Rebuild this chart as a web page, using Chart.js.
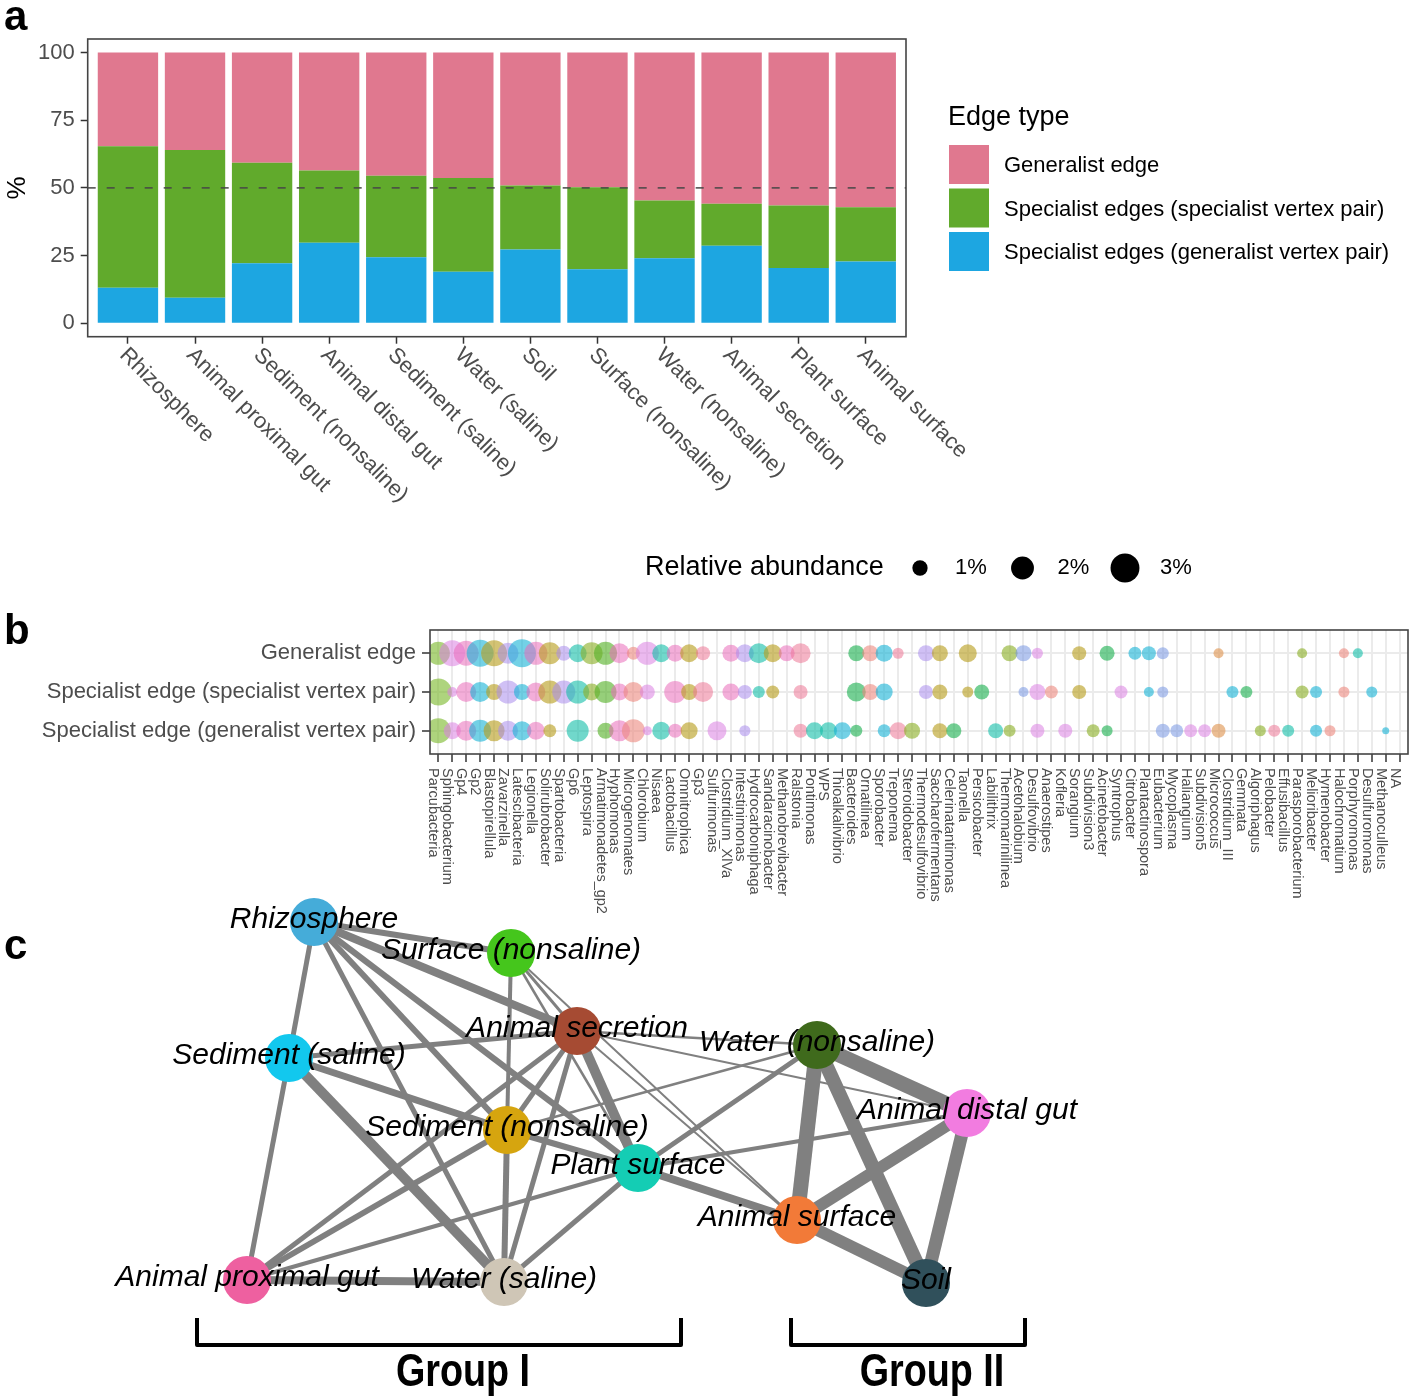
<!DOCTYPE html>
<html>
<head>
<meta charset="utf-8">
<title>Edge types across habitats</title>
<script src="https://cdn.jsdelivr.net/npm/chart.js"></script>
<style>
  html, body { margin: 0; padding: 0; background: #fff; }
  #page { position: relative; width: 1415px; height: 1398px; overflow: hidden; }
  #page canvas { position: absolute; }
  .tag { position: absolute; left: 4px; font: bold 42px/1 "Liberation Sans", Arial, sans-serif; color: #000; }
</style>
</head>
<body>
<div id="page">
  <canvas id="chartA" width="1415" height="540" style="left:0;top:0"></canvas>
  <canvas id="chartB" width="1430" height="380" style="left:0;top:540px"></canvas>
  <!-- the scatter pads its plot by the node radius (24px), so the canvas is 24px larger on every side -->
  <canvas id="chartC" width="1463" height="566" style="left:-24px;top:856px"></canvas>
  <div class="tag" style="top:-5px">a</div>
  <div class="tag" style="top:609px">b</div>
  <div class="tag" style="top:924px">c</div>
</div>
<script>
// ---- panel a: share of edge types per habitat (%)
const siteLabels = ['Rhizosphere', 'Animal proximal gut', 'Sediment (nonsaline)', 'Animal distal gut',
  'Sediment (saline)', 'Water (saline)', 'Soil', 'Surface (nonsaline)', 'Water (nonsaline)',
  'Animal secretion', 'Plant surface', 'Animal surface'];
const specGenPair = [13.1, 9.4, 22.1, 29.7, 24.4, 19.0, 27.2, 19.9, 24.0, 28.6, 20.4, 22.8];
const specSpecPair = [52.3, 54.6, 37.2, 26.7, 30.1, 34.6, 23.7, 30.3, 21.3, 15.5, 23.1, 20.0];
const generalistEdge = [34.6, 36.0, 40.7, 43.6, 45.5, 46.4, 49.1, 49.8, 54.7, 55.9, 56.5, 57.2];
const pctTicks = [0, 25, 50, 75, 100];

// ---- panel b: relative abundance (%) of genera per edge type
const rowLabels = ['Generalist edge', 'Specialist edge (specialist vertex pair)', 'Specialist edge (generalist vertex pair)'];
const genera = ['Parcubacteria', 'Sphingobacterium', 'Gp4', 'Gp2', 'Blastopirellula', 'Zavarzinella',
  'Latescibacteria', 'Legionella', 'Solirubrobacter', 'Spartobacteria', 'Gp6', 'Leptospira',
  'Armatimonadetes_gp2', 'Hyphomonas', 'Microgenomates', 'Chlorobium', 'Nisaea', 'Lactobacillus',
  'Omnitrophica', 'Gp3', 'Sulfurimonas', 'Clostridium_XlVa', 'Intestinimonas', 'Hydrocarboniphaga',
  'Sandaracinobacter', 'Methanobrevibacter', 'Ralstonia', 'Pontimonas', 'WPS', 'Thioalkalivibrio',
  'Bacteroides', 'Ornatilinea', 'Sporobacter', 'Treponema', 'Steroidobacter', 'Thermodesulfovibrio',
  'Saccharofermentans', 'Celerinatantimonas', 'Taonella', 'Persicobacter', 'Labilithrix',
  'Thermomarinilinea', 'Acetohalobium', 'Desulfovibrio', 'Anaerostipes', 'Kofleria', 'Sorangium',
  'Subdivision3', 'Acinetobacter', 'Syntrophus', 'Citrobacter', 'Plantactinospora', 'Eubacterium',
  'Mycoplasma', 'Haliangium', 'Subdivision5', 'Micrococcus', 'Clostridium_III', 'Gemmata',
  'Algoriphagus', 'Pelobacter', 'Effusibacillus', 'Parasporobacterium', 'Melioribacter',
  'Hymenobacter', 'Halochromatium', 'Porphyromonas', 'Desulfuromonas', 'Methanoculleus', 'NA'];
const _ = null;
const abundGeneralist = [2.02, 2.49, 2.33, 2.66, 2.49, 1.73, 2.83, 2.02, 1.87, 0.97,
  1.32, 1.87, 2.02, 1.59, 0.75, 2.02, 1.32, 1.20, 1.32, 0.86,
  _, 1.20, 1.32, 1.59, 1.32, 1.08, 1.59, _, _, _,
  1.08, 1.08, 1.20, 0.57, _, 1.08, 1.08, _, 1.32, _,
  _, 1.08, 1.08, 0.57, _, _, 0.86, _, 0.97, _,
  0.75, 0.86, 0.66, _, _, _, 0.48, _, _, _,
  _, _, 0.48, _, _, 0.48, 0.48, _, _, _];
const abundSpecSpec = [2.66, 0.48, 1.59, 1.59, 1.08, 2.02, 1.08, 1.45, 2.02, 2.02,
  2.02, 1.20, 1.87, 1.20, 1.59, 0.97, _, 1.87, 1.08, 1.59,
  _, 1.20, 0.86, 0.66, 0.75, _, 0.86, _, _, _,
  1.45, 1.08, 1.20, _, _, 0.86, 0.97, _, 0.57, 0.97,
  _, _, 0.48, 1.08, 0.75, _, 0.86, _, _, 0.75,
  _, 0.48, 0.57, _, _, _, _, 0.66, 0.66, _,
  _, _, 0.75, 0.66, _, 0.57, _, 0.57, _, _];
const abundSpecGen = [2.33, 1.20, 1.59, 1.87, 1.73, 1.59, 1.45, 1.32, 0.75, _,
  1.87, _, 1.08, 1.73, 2.02, 0.40, 1.32, 0.86, 1.20, _,
  1.45, _, 0.57, _, _, _, 0.86, 1.20, 1.20, 1.20,
  0.66, _, 0.75, 1.20, 1.08, _, 0.97, 0.97, _, _,
  0.97, 0.66, _, 0.86, _, 0.86, _, 0.75, 0.57, _,
  _, _, 0.86, 0.75, 0.75, 0.75, 0.86, _, _, 0.57,
  0.66, 0.66, _, 0.66, 0.57, _, _, _, 0.26, _];
const legendAbund = [1, 2, 3];

// ---- panel c: habitat network layout (layout units) and edge weights
const nodeNames = ['Rhizosphere', 'Surface (nonsaline)', 'Animal secretion', 'Sediment (saline)',
  'Water (nonsaline)', 'Animal distal gut', 'Sediment (nonsaline)', 'Plant surface',
  'Animal surface', 'Animal proximal gut', 'Water (saline)', 'Soil'];
const nodeX = [-1.43, -0.445, -0.115, -1.555, 1.085, 1.835, -0.465, 0.19, 0.985, -1.765, -0.48, 1.63];
const nodeY = [0.89, 0.735, 0.345, 0.21, 0.275, -0.065, -0.15, -0.34, -0.6, -0.9, -0.91, -0.915];
const edgeFrom = ['Rhizosphere', 'Rhizosphere', 'Rhizosphere', 'Rhizosphere', 'Rhizosphere', 'Rhizosphere',
  'Surface (nonsaline)', 'Surface (nonsaline)', 'Surface (nonsaline)', 'Surface (nonsaline)',
  'Animal secretion', 'Animal secretion', 'Animal secretion', 'Animal secretion', 'Animal secretion',
  'Animal secretion', 'Animal secretion', 'Animal secretion',
  'Sediment (saline)', 'Sediment (saline)', 'Sediment (saline)',
  'Sediment (nonsaline)', 'Sediment (nonsaline)', 'Sediment (nonsaline)', 'Sediment (nonsaline)',
  'Animal proximal gut', 'Animal proximal gut', 'Water (saline)',
  'Plant surface', 'Plant surface', 'Plant surface',
  'Water (nonsaline)', 'Water (nonsaline)', 'Water (nonsaline)',
  'Animal distal gut', 'Animal distal gut', 'Animal surface'];
const edgeTo = ['Sediment (saline)', 'Surface (nonsaline)', 'Animal secretion', 'Sediment (nonsaline)', 'Plant surface', 'Water (saline)',
  'Animal secretion', 'Sediment (nonsaline)', 'Plant surface', 'Animal surface',
  'Sediment (saline)', 'Water (nonsaline)', 'Animal distal gut', 'Plant surface', 'Sediment (nonsaline)',
  'Animal proximal gut', 'Water (saline)', 'Animal surface',
  'Animal proximal gut', 'Water (saline)', 'Sediment (nonsaline)',
  'Plant surface', 'Animal proximal gut', 'Water (saline)', 'Water (nonsaline)',
  'Plant surface', 'Water (saline)', 'Plant surface',
  'Animal surface', 'Water (nonsaline)', 'Animal distal gut',
  'Animal distal gut', 'Animal surface', 'Soil',
  'Animal surface', 'Soil', 'Soil'];
const edgeWeight = [5, 6, 8, 6, 6, 5,
  3, 4, 2.5, 2,
  5, 2.5, 2, 10, 5, 5, 5, 2,
  5, 10, 7,
  6, 6, 6, 2.5,
  4, 8, 5,
  8, 5, 4,
  15, 15, 14,
  12, 13, 12];
const groupNames = ['Group I', 'Group II'];
const groupFrom = [-2.015, 0.955];
const groupTo = [0.405, 2.125];

// ---- styles
const FONT = '"Liberation Sans", Arial, Helvetica, sans-serif';
const AXIS_GREY = '#4d4d4d';
const edgeTypeColors = ['#1da6e1', '#61aa2c', '#e0788f'];
const genusColors = (() => {
  const lime = 'rgba(125,185,45,0.62)', orchid = 'rgba(218,128,226,0.55)', pink = 'rgba(234,108,186,0.55)',
    cyan = 'rgba(22,178,214,0.6)', olive = 'rgba(184,158,30,0.62)', lav = 'rgba(170,140,236,0.55)',
    teal = 'rgba(18,190,168,0.6)', green = 'rgba(30,178,82,0.62)', salmon = 'rgba(236,136,126,0.6)',
    rose = 'rgba(236,118,150,0.55)', blue = 'rgba(118,150,226,0.55)', oliveGreen = 'rgba(140,176,40,0.62)',
    leaf = 'rgba(86,178,40,0.62)', orange = 'rgba(222,148,80,0.62)', grey = 'rgba(150,150,150,0.6)';
  return [lime, orchid, pink, cyan, olive, lav, cyan, pink, olive, lav,
    teal, oliveGreen, leaf, pink, salmon, orchid, teal, pink, olive, rose,
    orchid, pink, lav, teal, olive, pink, rose, teal, teal, cyan,
    green, salmon, cyan, rose, oliveGreen, lav, olive, green, olive, green,
    teal, oliveGreen, blue, orchid, salmon, orchid, olive, oliveGreen, green, orchid,
    cyan, cyan, blue, blue, orchid, orchid, orange, cyan, green, oliveGreen,
    rose, teal, oliveGreen, cyan, salmon, salmon, teal, cyan, cyan, grey];
})();
const nodeColors = ['#45acd9', '#45c61c', '#a64b33', '#12c8ee', '#3f6a1c', '#f27ce0',
  '#d6a50f', '#14cdb4', '#f27a38', '#ee60a0', '#cfc6b6', '#30505b'];

Chart.defaults.font.family = FONT;
Chart.defaults.animation = false;
Chart.defaults.plugins.legend.display = false;
Chart.defaults.plugins.tooltip.enabled = false;

// diameter (px) for an abundance in %
const bubbleDiameter = v => 15.3 * Math.pow(v, 0.58);

const panelBorder = {
  id: 'panelBorder',
  afterDraw(chart) {
    const { ctx, chartArea: a } = chart;
    ctx.save();
    ctx.strokeStyle = '#444';
    ctx.lineWidth = 1.6;
    ctx.strokeRect(a.left, a.top, a.right - a.left, a.bottom - a.top);
    ctx.restore();
  }
};

// ================= panel a =================
const refLine = {
  id: 'refLine',
  afterDatasetsDraw(chart) {
    const { ctx, chartArea: a, scales: { y } } = chart;
    const py = y.getPixelForValue(50);
    ctx.save();
    ctx.strokeStyle = 'rgba(70,70,70,0.85)';
    ctx.lineWidth = 1.6;
    ctx.setLineDash([8, 11]);
    ctx.beginPath();
    ctx.moveTo(a.left, py);
    ctx.lineTo(a.right, py);
    ctx.stroke();
    ctx.restore();
  }
};

const slantLabels = {
  id: 'slantLabels',
  afterDraw(chart) {
    const { ctx, chartArea: a, scales: { x } } = chart;
    ctx.save();
    ctx.font = '22px ' + FONT;
    ctx.fillStyle = AXIS_GREY;
    ctx.textAlign = 'left';
    ctx.textBaseline = 'middle';
    siteLabels.forEach((lab, i) => {
      ctx.save();
      ctx.translate(x.getPixelForValue(i + 1) - 5, a.bottom + 15);
      ctx.rotate(Math.PI / 4);
      ctx.fillText(lab, 0, 0);
      ctx.restore();
    });
    ctx.restore();
  }
};

const edgeLegend = {
  id: 'edgeLegend',
  afterDraw(chart) {
    const ctx = chart.ctx;
    ctx.save();
    ctx.textBaseline = 'middle';
    ctx.fillStyle = '#000';
    ctx.font = '27px ' + FONT;
    ctx.fillText('Edge type', 948, 118);
    ctx.font = '22px ' + FONT;
    chart.data.datasets.slice().reverse().forEach((ds, k) => {
      const top = 145 + k * 43.5;
      ctx.fillStyle = ds.backgroundColor;
      ctx.fillRect(949, top, 40, 39);
      ctx.fillStyle = '#000';
      ctx.fillText(ds.label, 1004, top + 21);
    });
    ctx.restore();
  }
};

const asPoints = arr => arr.map((v, i) => ({ x: i + 1, y: v }));

new Chart(document.getElementById('chartA'), {
  type: 'bar',
  data: {
    datasets: [
      { label: 'Specialist edges (generalist vertex pair)', data: asPoints(specGenPair), backgroundColor: edgeTypeColors[0] },
      { label: 'Specialist edges (specialist vertex pair)', data: asPoints(specSpecPair), backgroundColor: edgeTypeColors[1] },
      { label: 'Generalist edge', data: asPoints(generalistEdge), backgroundColor: edgeTypeColors[2] }
    ]
  },
  options: {
    responsive: false,
    layout: { padding: { top: 39, right: 509, left: 0, bottom: 0 } },
    datasets: { bar: { barPercentage: 0.9, categoryPercentage: 1, borderWidth: 0 } },
    scales: {
      x: {
        type: 'linear', stacked: true, offset: false, min: 0.4, max: 12.6,
        afterBuildTicks: s => { s.ticks = siteLabels.map((l, i) => ({ value: i + 1 })); },
        afterFit: s => { s.height = 540 - 336.7; },
        ticks: { display: false },
        grid: { offset: false, drawOnChartArea: false, tickLength: 7, tickColor: '#333', tickWidth: 1.5 },
        border: { display: false }
      },
      y: {
        stacked: true, min: -5, max: 105,
        afterBuildTicks: s => { s.ticks = pctTicks.map(v => ({ value: v })); },
        afterFit: s => { s.width = 87.7; },
        ticks: { color: AXIS_GREY, font: { size: 22 }, padding: 6 },
        grid: { drawOnChartArea: false, tickLength: 7, tickColor: '#333', tickWidth: 1.5 },
        border: { display: false },
        title: { display: true, text: '%', color: '#000', font: { size: 26 }, padding: { top: 2, bottom: 0 } }
      }
    }
  },
  plugins: [refLine, panelBorder, slantLabels, edgeLegend]
});

// ================= panel b =================
const rowSeries = [abundGeneralist, abundSpecSpec, abundSpecGen];
const bubbleSets = rowSeries.map((series, r) => ({
  label: rowLabels[r],
  data: series.map((v, i) => v == null ? null : { x: i + 1, y: r + 1, r: bubbleDiameter(v) / 2, g: i })
    .filter(p => p !== null),
  backgroundColor: ctx => genusColors[ctx.raw ? ctx.raw.g : 0],
  borderWidth: 0
}));

const verticalGenusLabels = {
  id: 'verticalGenusLabels',
  afterDraw(chart) {
    const { ctx, chartArea: a, scales: { x } } = chart;
    ctx.save();
    ctx.font = '14.5px ' + FONT;
    ctx.fillStyle = AXIS_GREY;
    ctx.textAlign = 'left';
    ctx.textBaseline = 'middle';
    genera.forEach((g, i) => {
      ctx.save();
      ctx.translate(x.getPixelForValue(i + 1) - 5, a.bottom + 14);
      ctx.rotate(Math.PI / 2);
      ctx.fillText(g, 0, 0);
      ctx.restore();
    });
    ctx.restore();
  }
};

const sizeLegend = {
  id: 'sizeLegend',
  afterDraw(chart) {
    const ctx = chart.ctx;
    const cy = 28;
    ctx.save();
    ctx.textBaseline = 'middle';
    ctx.fillStyle = '#000';
    ctx.font = '27px ' + FONT;
    ctx.fillText('Relative abundance', 645, cy);
    ctx.font = '22px ' + FONT;
    legendAbund.forEach((v, k) => {
      const cx = 920 + k * 102.5;
      ctx.beginPath();
      ctx.arc(cx, cy, bubbleDiameter(v) / 2, 0, Math.PI * 2);
      ctx.fill();
      ctx.fillText(v + '%', cx + 35, cy);
    });
    ctx.restore();
  }
};

new Chart(document.getElementById('chartB'), {
  type: 'bubble',
  data: { datasets: bubbleSets },
  options: {
    responsive: false,
    // right padding larger than the biggest bubble radius so the panel ends at x = 1408
    layout: { padding: { top: 90, right: 22, left: 0, bottom: 0 } },
    scales: {
      x: {
        type: 'linear', min: 0.4, max: 70.6,
        afterBuildTicks: s => { s.ticks = genera.map((g, i) => ({ value: i + 1 })); },
        afterFit: s => { s.height = 380 - 214; },
        ticks: { display: false, autoSkip: false },
        grid: { color: '#ebebeb', lineWidth: 2, tickLength: 8, tickColor: '#333', tickWidth: 1.5 },
        border: { display: false }
      },
      y: {
        type: 'linear', reverse: true, min: 0.4, max: 3.6,
        afterBuildTicks: s => { s.ticks = rowLabels.map((l, i) => ({ value: i + 1 })); },
        afterFit: s => { s.width = 430; },
        ticks: { autoSkip: false, color: AXIS_GREY, font: { size: 22 }, padding: 6, callback: v => rowLabels[v - 1] },
        grid: { color: '#ebebeb', lineWidth: 2, tickLength: 8, tickColor: '#333', tickWidth: 1.5 },
        border: { display: false }
      }
    }
  },
  plugins: [panelBorder, verticalGenusLabels, sizeLegend]
});

// ================= panel c =================
const nodeIndex = name => nodeNames.indexOf(name);
const nodePoint = name => ({ x: nodeX[nodeIndex(name)], y: nodeY[nodeIndex(name)] });

const edgeSets = edgeFrom.map((f, k) => ({
  label: f + ' – ' + edgeTo[k],
  data: [nodePoint(f), nodePoint(edgeTo[k])],
  showLine: true,
  borderColor: '#808080',
  borderWidth: edgeWeight[k],
  pointRadius: 0,
  order: 2
}));

const nodeSet = {
  label: 'Habitats',
  data: nodeNames.map((n, i) => ({ x: nodeX[i], y: nodeY[i] })),
  pointRadius: 24,
  pointBackgroundColor: nodeColors,
  pointBorderWidth: 0,
  order: 1
};

const nodeLabels = {
  id: 'nodeLabels',
  afterDatasetsDraw(chart) {
    const { ctx, scales: { x, y } } = chart;
    ctx.save();
    ctx.font = 'italic 30px ' + FONT;
    ctx.fillStyle = '#000';
    ctx.textAlign = 'center';
    ctx.textBaseline = 'middle';
    nodeNames.forEach((n, i) => {
      ctx.fillText(n, x.getPixelForValue(nodeX[i]), y.getPixelForValue(nodeY[i]) - 2);
    });
    ctx.restore();
  }
};

const groupBrackets = {
  id: 'groupBrackets',
  afterDraw(chart) {
    const { ctx, chartArea: a, scales: { x } } = chart;
    ctx.save();
    ctx.strokeStyle = '#000';
    ctx.lineWidth = 4;
    ctx.lineJoin = 'round';
    ctx.fillStyle = '#000';
    ctx.textAlign = 'center';
    ctx.textBaseline = 'alphabetic';
    ctx.font = 'bold 46px ' + FONT;
    groupNames.forEach((g, k) => {
      const l = x.getPixelForValue(groupFrom[k]);
      const r = x.getPixelForValue(groupTo[k]);
      ctx.beginPath();
      ctx.moveTo(l, a.top + 438);
      ctx.lineTo(l, a.top + 465);
      ctx.lineTo(r, a.top + 465);
      ctx.lineTo(r, a.top + 438);
      ctx.stroke();
      // condensed heavy face, as in the figure
      ctx.save();
      ctx.translate((l + r) / 2 + 24, a.top + 506);
      ctx.scale(0.82, 1);
      ctx.fillText(g, 0, 0);
      ctx.restore();
    });
    ctx.restore();
  }
};

new Chart(document.getElementById('chartC'), {
  type: 'scatter',
  data: { datasets: [nodeSet, ...edgeSets] },
  options: {
    responsive: false,
    layout: { padding: 0 },
    scales: {
      x: { type: 'linear', display: false, min: -3, max: 4.075 },
      y: { type: 'linear', display: false, min: -1.49, max: 1.1 }
    }
  },
  plugins: [nodeLabels, groupBrackets]
});
</script>
</body>
</html>
